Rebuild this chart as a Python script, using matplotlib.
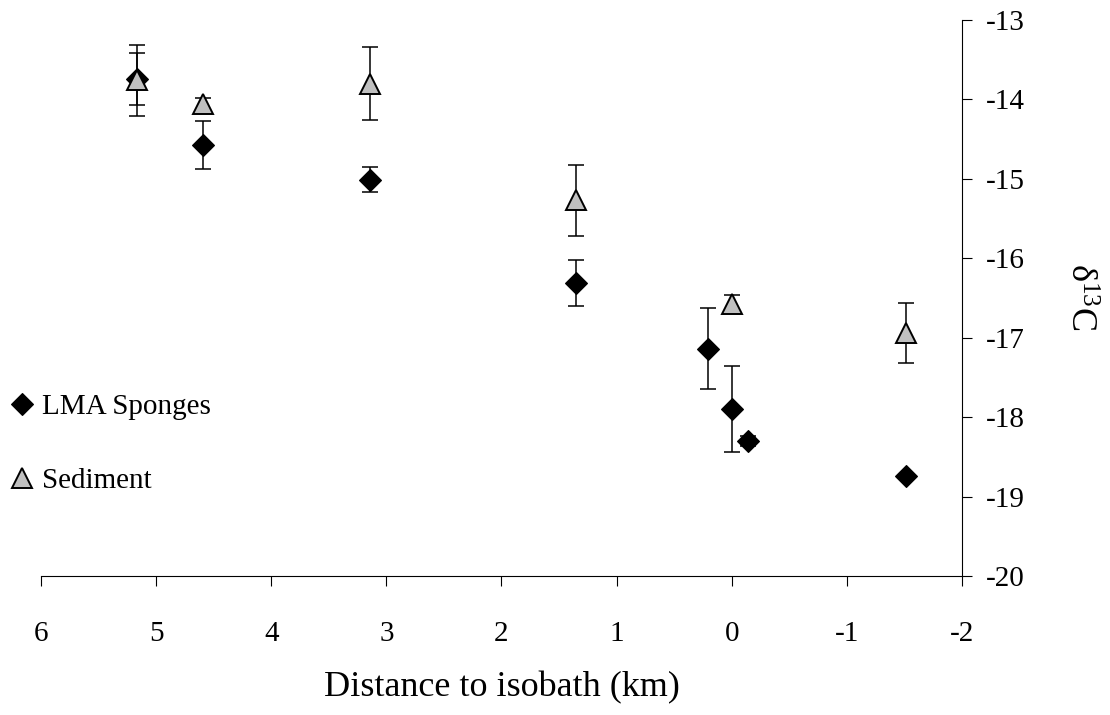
import matplotlib
matplotlib.use("Agg")
import matplotlib.pyplot as plt
from matplotlib.lines import Line2D

plt.rcParams["font.family"] = ["Liberation Serif", "DejaVu Serif"]
plt.rcParams["mathtext.fontset"] = "custom"
plt.rcParams["mathtext.rm"] = "Liberation Serif"
plt.rcParams["mathtext.it"] = "Liberation Serif:italic"
plt.rcParams["axes.unicode_minus"] = False

# LMA sponge isotope values (mean +/- error) against distance to the isobath
sponge_dist = [5.17, 4.59, 3.14, 1.35, 0.21, 0.0, -0.14, -1.51]
sponge_d13c = [-13.74, -14.57, -15.01, -16.31, -17.14, -17.90, -18.30, -18.74]
sponge_err = [0.33, 0.30, 0.16, 0.29, 0.51, 0.54, 0.06, 0.0]

# Sediment isotope values
sed_dist = [5.17, 4.59, 3.14, 1.35, 0.0, -1.51]
sed_d13c = [-13.76, -14.06, -13.80, -15.27, -16.57, -16.94]
sed_err = [0.45, 0.08, 0.46, 0.45, 0.11, 0.38]

x_ticks = [6, 5, 4, 3, 2, 1, 0, -1, -2]
y_ticks = [-13, -14, -15, -16, -17, -18, -19, -20]

W, H = 1110, 715
fig = plt.figure(figsize=(W / 100, H / 100), dpi=100)
ax = fig.add_axes([41 / W, 1 - 576 / H, (962 - 41) / W, (576 - 20) / H])

err_style = dict(fmt="none", ecolor="black", elinewidth=1.1, capsize=5.8, capthick=1.1)

ax.errorbar(sponge_dist, sponge_d13c, yerr=sponge_err, zorder=2, **err_style)
ax.plot(sponge_dist, sponge_d13c, linestyle="none", marker="D", markersize=11,
        markerfacecolor="black", markeredgecolor="black", markeredgewidth=0.8, zorder=3)

ax.errorbar(sed_dist, sed_d13c, yerr=sed_err, zorder=4, **err_style)
ax.plot(sed_dist, sed_d13c, linestyle="none", marker="^", markersize=14.5,
        markerfacecolor="#c0c0c0", markeredgecolor="black", markeredgewidth=1.4, zorder=5)

ax.set_xlim(6, -2)
ax.set_ylim(-20, -13)
ax.set_xticks(x_ticks)
ax.set_xticklabels([str(v) for v in x_ticks])
ax.set_yticks(y_ticks)
ax.set_yticklabels([str(v) for v in y_ticks])

for side in ("left", "top"):
    ax.spines[side].set_visible(False)
for side in ("right", "bottom"):
    ax.spines[side].set_linewidth(0.8)
    ax.spines[side].set_color("black")

ax.yaxis.tick_right()
ax.tick_params(axis="x", direction="out", length=7.5, width=0.8, pad=25, labelsize=21)
ax.tick_params(axis="y", direction="out", length=7.5, width=0.8, pad=10, labelsize=21)

ax.set_xlabel("Distance to isobath (km)", fontsize=26, labelpad=17)
fig.text(1079 / W, 1 - 297 / H, "δ$^{13}$C", rotation=270, fontsize=26,
         ha="center", va="center")

handles = [
    Line2D([], [], linestyle="none", marker="D", markersize=11,
           markerfacecolor="black", markeredgecolor="black", markeredgewidth=0.8),
    Line2D([], [], linestyle="none", marker="^", markersize=14.5,
           markerfacecolor="#c0c0c0", markeredgecolor="black", markeredgewidth=1.4),
]
fig.legend(handles, ["LMA Sponges", "Sediment"], loc="center left",
           bbox_to_anchor=(7.5 / W, 1 - 444 / H), frameon=False, fontsize=21,
           handlelength=1.0, handletextpad=0.19, labelspacing=1.62,
           borderpad=0, borderaxespad=0)

fig.savefig("out.png", dpi=100)
